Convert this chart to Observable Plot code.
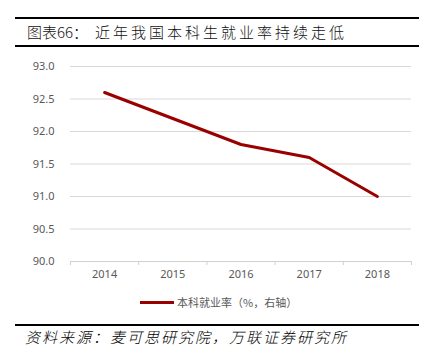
<!DOCTYPE html>
<html><head><meta charset="utf-8">
<script src="https://cdn.jsdelivr.net/npm/d3@7"></script>
<script src="https://cdn.jsdelivr.net/npm/@observablehq/plot@0.6"></script>
<style>
body{margin:0;background:#fff;font-family:"Noto Sans CJK SC","Noto Sans",sans-serif;}
#wrap{position:relative;width:428px;height:362px;overflow:hidden;}
.rule{position:absolute;left:15px;width:404px;height:2px;background:#000;}
.title{position:absolute;top:22px;font-size:15px;color:#111;line-height:20px;font-weight:300;}
#chart{position:absolute;left:0;top:50px;}
#legend{position:absolute;left:140px;top:294px;font-size:11px;color:#595959;display:flex;align-items:center;line-height:16px;}
#legend .sw{width:34px;height:3px;background:#990000;margin-right:3px;}
#source{position:absolute;left:25px;top:327px;font-size:15px;font-style:italic;color:#000;line-height:20px;letter-spacing:2px;font-weight:300;}
</style></head>
<body><div id="wrap">
<div class="rule" style="top:17px"></div>
<div class="title" style="left:27px">图表66：</div>
<div class="title" style="left:95px;letter-spacing:3px">近年我国本科生就业率持续走低</div>
<div class="rule" style="top:45px"></div>
<div id="chart"></div>
<div id="legend"><div class="sw"></div><span>本科就业率（%，右轴）</span></div>
<div class="rule" style="top:324px"></div>
<div id="source">资料来源：麦可思研究院，万联证券研究所</div>
</div>
<script>
const years = [2014, 2015, 2016, 2017, 2018];
const rate = [92.6, 92.2, 91.8, 91.6, 91.0];
const yTicks = [90.0, 90.5, 91.0, 91.5, 92.0, 92.5, 93.0];
const data = years.map((y, i) => ({year: y, value: rate[i]}));
const edges = years.map(y => y - 0.5).concat([years[years.length - 1] + 0.5]);

const chart = Plot.plot({
  width: 428,
  height: 240,
  marginTop: 16,
  marginBottom: 29,
  marginLeft: 70,
  marginRight: 17,
  style: {fontFamily: "'Noto Sans', 'DejaVu Sans', sans-serif", fontSize: "11px", color: "#595959", background: "#fff"},
  x: {domain: [edges[0], edges[edges.length - 1]]},
  y: {domain: [90, 93]},
  marks: [
    Plot.gridY(yTicks.slice(1), {stroke: "#d9d9d9", strokeOpacity: 1}),
    Plot.ruleY([90], {stroke: "#d0d0d0"}),
    Plot.axisY({ticks: yTicks, tickSize: 0, tickPadding: 16, tickFormat: d => d.toFixed(1), fill: "#595959", label: null, letterSpacing: 1}),
    Plot.axisX({ticks: edges, tickSize: 4, tickFormat: () => "", stroke: "#d0d0d0", label: null}),
    Plot.axisX({ticks: years, tickSize: 0, tickPadding: 9, tickFormat: d => String(d), fill: "#595959", label: null}),
    Plot.line(data, {x: "year", y: "value", stroke: "#990000", strokeWidth: 3})
  ]
});
document.getElementById("chart").appendChild(chart);
</script>
</body></html>
